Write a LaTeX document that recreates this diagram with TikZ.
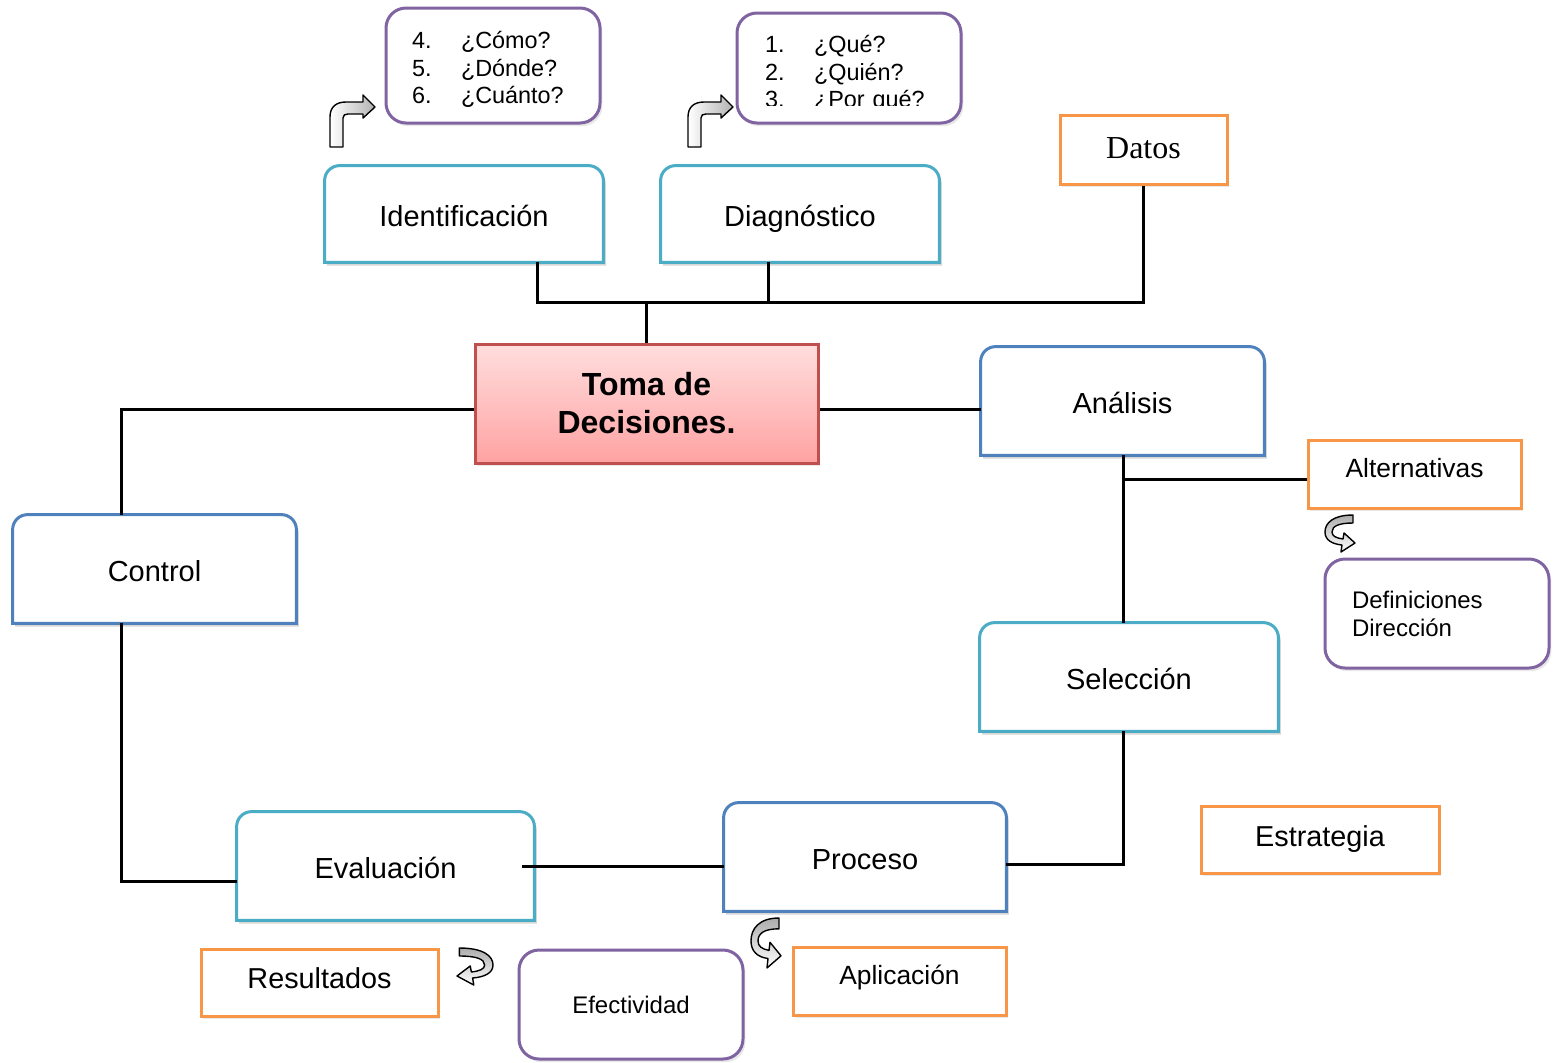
\documentclass[tikz,border=0pt]{standalone}
\usepackage{fontspec}
\setmainfont{Liberation Sans}
\newfontfamily\datosfont{Liberation Serif}
\usetikzlibrary{backgrounds,calc,shadows}

\definecolor{tealline}{HTML}{4BACC6}
\definecolor{blueline}{HTML}{4F81BD}
\definecolor{orangeline}{HTML}{F79646}
\definecolor{purpleline}{HTML}{8064A2}
\definecolor{redline}{HTML}{C0504D}
\definecolor{tomatop}{HTML}{FFDEDE}
\definecolor{tomabot}{HTML}{FFA2A2}

\newcommand\fs[2]{\fontsize{#1}{#2}\selectfont}
\newcommand\qnum[1]{\makebox[24.5pt][l]{#1}}

% box with rounded top corners and square bottom corners, plus a soft shadow
\newcommand\topbox[2]{%
  \fill[black,opacity=.16,transform canvas={shift={(1.2pt,-1.6pt)}}]
    (#1.south west) -- ($(#1.north west)+(0pt,-7.5pt)$)
    arc[start angle=180,end angle=90,radius=7.5pt]
    -- ($(#1.north east)+(-7.5pt,0pt)$)
    arc[start angle=90,end angle=0,radius=7.5pt]
    -- (#1.south east) -- cycle;
  \filldraw[fill=white,draw=#2,line width=1.5pt]
    (#1.south west) -- ($(#1.north west)+(0pt,-7.5pt)$)
    arc[start angle=180,end angle=90,radius=7.5pt]
    -- ($(#1.north east)+(-7.5pt,0pt)$)
    arc[start angle=90,end angle=0,radius=7.5pt]
    -- (#1.south east) -- cycle;}

\tikzset{
  conn/.style={line width=1.5pt, black},
  lbl/.style={inner sep=0pt, align=center, font=\fs{14.5}{17},
    text height=13.6pt, text depth=1.1pt},
  softshadow/.style={drop shadow={opacity=.18, shadow xshift=1.2pt, shadow yshift=-1.6pt}},
  sqbox/.style={draw=orangeline, line width=1.5pt, fill=white, inner sep=0pt,
    align=center, softshadow},
  rbox/.style={draw=purpleline, line width=1.5pt, fill=white, rounded corners=10pt,
    inner sep=0pt, align=center, softshadow},
  qtext/.style={inner sep=0pt, align=left, font=\fs{11.7}{13.75}},
  blockarrow/.style={draw=black, line width=0.7pt, line join=round},
  bentarrow/.pic={
    \path[blockarrow, left color=white, right color=gray!60]
      (0,52) -- (0,22) .. controls (0,12) and (6,7) .. (16,7) -- (33,7) -- (33,0)
      -- (45,12) -- (33,23) -- (33,19) -- (18,19)
      .. controls (15,19) and (13,20) .. (13,23) -- (13,52) -- cycle;
  },
  carrow/.pic={
    \path[blockarrow, top color=gray!65, bottom color=white]
      (28,0) .. controls (8,0) and (0,8) .. (0,17)
      .. controls (0,25) and (7,29) .. (17,30) -- (16,37) -- (30,28) -- (19,18)
      -- (18,24) .. controls (11,23) and (7,21) .. (7,17)
      .. controls (7,11) and (14,8) .. (28,8) -- cycle;
  },
}

\begin{document}
\begin{tikzpicture}[x=0.5pt,y=-0.5pt]
\useasboundingbox (0,0) rectangle (1554,1062);

% ---- boxes ----
\node[lbl, minimum width=139pt, minimum height=48pt] (ident) at (464,214) {Identificación};
\node[lbl, minimum width=139pt, minimum height=48pt] (diag) at (800,214) {Diagnóstico};
\node[sqbox, minimum width=83.5pt, minimum height=34.5pt, font=\datosfont\fs{16}{19}]
  (datos) at (1143.5,149.5) {\raisebox{1.5pt}{Datos}};
\node[draw=redline, line width=1.5pt, top color=tomatop, bottom color=tomabot, softshadow,
  minimum width=171.5pt, minimum height=59.5pt, align=center, font=\bfseries\fs{16}{19}]
  (toma) at (646.5,403.5) {Toma de\\Decisiones.};
\node[lbl, minimum width=141.5pt, minimum height=54pt] (anal) at (1122.5,401) {Análisis};
\node[sqbox, minimum width=106.5pt, minimum height=34pt, font=\fs{13.2}{16}]
  (alt) at (1414.5,474) {\raisebox{6.5pt}{Alternativas}};
\node[rbox, minimum width=112pt, minimum height=54.5pt, text width=85pt, inner xsep=13.5pt,
  align=left, font=\fs{12}{14}] (defin) at (1437,613.5) {Definiciones\\Dirección};
\node[lbl, minimum width=149pt, minimum height=54pt] (selec) at (1129,677) {Selección};
\node[lbl, minimum width=141.5pt, minimum height=54pt] (control) at (154.5,569) {Control};
\node[sqbox, minimum width=119pt, minimum height=33.5pt, font=\fs{14.4}{17}]
  (estrat) at (1320,839.5) {\raisebox{3.5pt}{Estrategia}};
\node[lbl, minimum width=141pt, minimum height=54pt] (proceso) at (865,857) {Proceso};
\node[lbl, minimum width=148.5pt, minimum height=54pt] (evalu) at (385.5,866) {Evaluación};
\node[sqbox, minimum width=118.5pt, minimum height=33.5pt, font=\fs{14.4}{17}]
  (result) at (319.5,982.5) {\raisebox{4pt}{Resultados}};
\node[rbox, minimum width=112pt, minimum height=54.5pt, font=\fs{12}{14}]
  (efect) at (631,1004.5) {Efectividad};
\node[sqbox, minimum width=106.5pt, minimum height=34pt, font=\fs{13.2}{16}]
  (aplic) at (899.5,981) {\raisebox{6.5pt}{Aplicación}};

% ---- question bubbles ----
\node[rbox, minimum width=107pt, minimum height=57.5pt] (b1) at (493,65.5) {};
\node[qtext, text width=81pt] (b1text) at (493,69.5)
  {\qnum{4.}¿Cómo?\\\qnum{5.}¿Dónde?\\\qnum{6.}¿Cuánto?};
\node[rbox, minimum width=112pt, minimum height=55pt] (b2) at (849,68) {};
\begin{scope}
  \clip (737,13) rectangle (961,105);
  \node[qtext, text width=84pt] (b2text) at (849,74)
    {\qnum{1.}¿Qué?\\\qnum{2.}¿Quién?\\\qnum{3.}¿Por qué?};
\end{scope}

% ---- outlines of the rounded-top boxes ----
\begin{scope}[on background layer]
  \topbox{ident}{tealline}
  \topbox{diag}{tealline}
  \topbox{anal}{blueline}
  \topbox{selec}{tealline}
  \topbox{control}{blueline}
  \topbox{proceso}{blueline}
  \topbox{evalu}{tealline}
\end{scope}

% ---- connectors ----
\coordinate (jl) at (537,302);
\coordinate (jm) at (768,302);
\draw[conn] (jl |- ident.south) -- (jl) -- (jl -| datos.south) -- (datos.south);
\draw[conn] (jm |- diag.south) -- (jm);
\draw[conn] (toma.north) -- (toma.north |- jl);

\coordinate (cl) at (121,409);
\draw[conn] (toma.west |- cl) -- (cl) -- (cl |- control.north);
\draw[conn] (toma.east |- cl) -- (cl -| anal.west);
\coordinate (cb) at (121,881);
\draw[conn] (cl |- control.south) -- (cb) -- (cb -| evalu.west);

\coordinate (ax) at (1123,479);
\draw[conn] (ax |- anal.south) -- (ax |- selec.north);
\draw[conn] (ax) -- (ax -| alt.west);
\coordinate (sb) at (1123,864);
\draw[conn] (sb |- selec.south) -- (sb) -- (sb -| proceso.east);
\coordinate (pe) at (522,866);
\draw[conn] (pe -| proceso.west) -- (pe);

% ---- block arrows ----
\pic at (330,95) {bentarrow};
\pic at (688,95) {bentarrow};
\pic at (1325,515) {carrow};
\pic[yscale=1.35] at (751,918) {carrow};
\pic[xscale=-1.2] at (493,948) {carrow};

\end{tikzpicture}
\end{document}
